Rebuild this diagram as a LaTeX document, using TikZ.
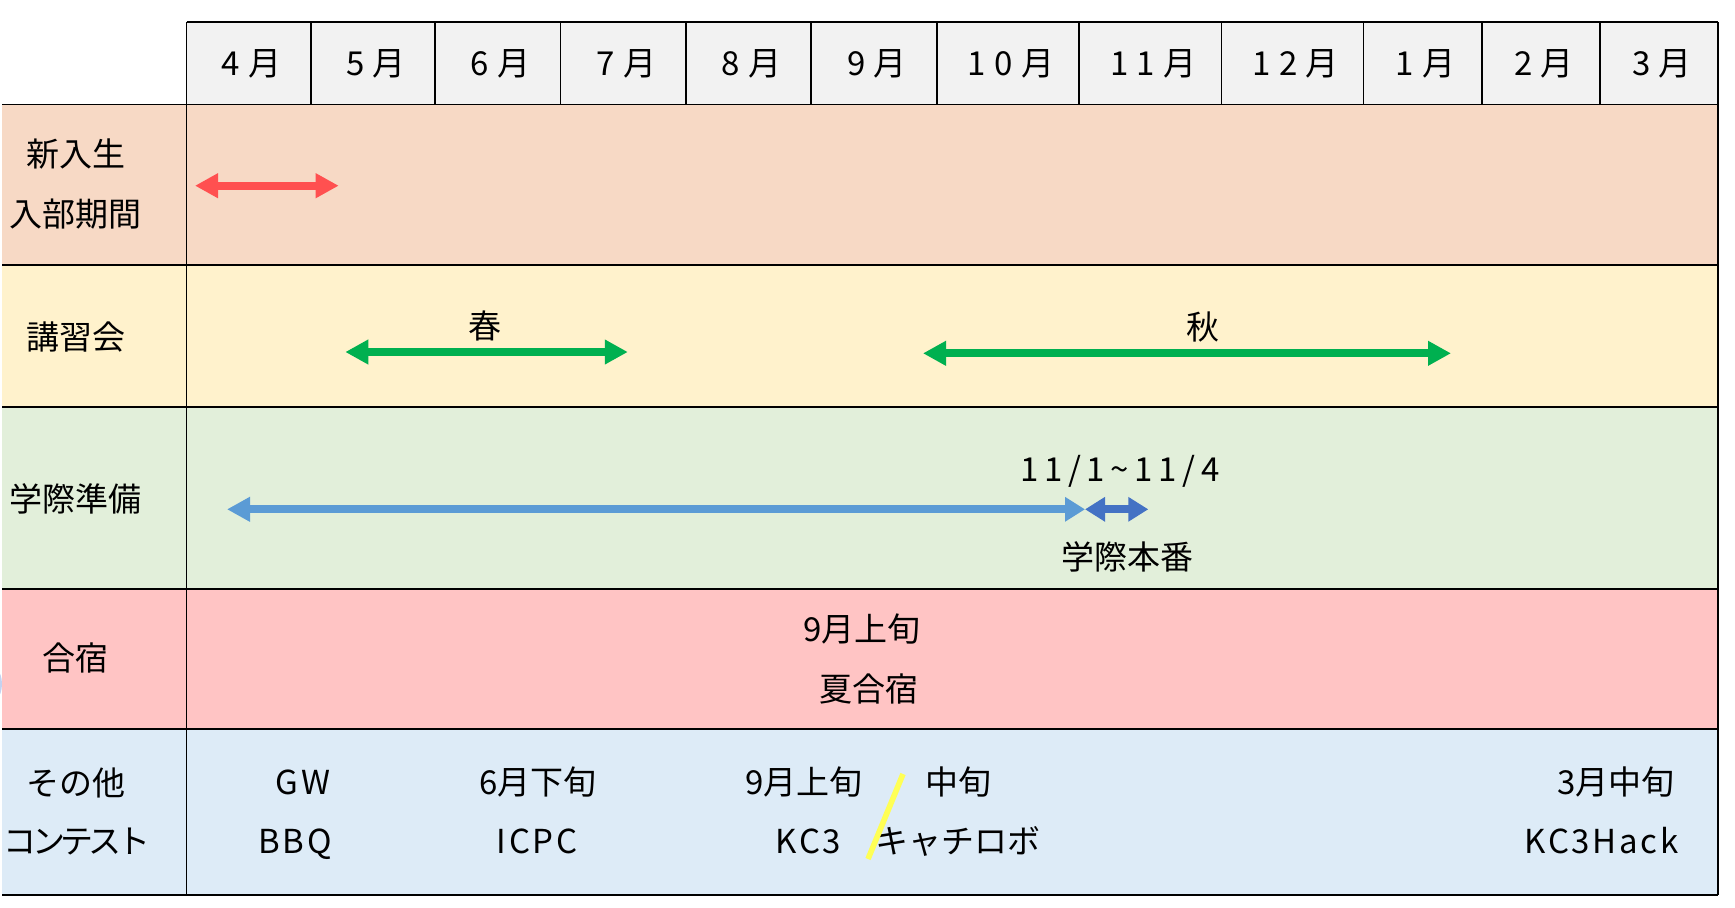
\documentclass[tikz,border=0pt]{standalone}
\usepackage{fontspec}
\setmainfont{Noto Sans CJK JP}
\usetikzlibrary{arrows.meta}
\definecolor{hdrfill}{HTML}{F2F2F2}
\definecolor{rowA}{HTML}{F7D9C5}
\definecolor{rowB}{HTML}{FFF2CC}
\definecolor{rowC}{HTML}{E2EFDA}
\definecolor{rowD}{HTML}{FFC4C4}
\definecolor{rowE}{HTML}{DDEBF7}
\definecolor{arrRed}{HTML}{FF5050}
\definecolor{arrGreen}{HTML}{00B050}
\definecolor{arrLBlue}{HTML}{5B9BD5}
\definecolor{arrDBlue}{HTML}{4472C4}
\definecolor{slashY}{HTML}{FFFF55}
\definecolor{blobBlue}{HTML}{9DB4E6}
\tikzset{
  lbl/.style={font=\fontsize{16.5pt}{20pt}\selectfont, text height=0.8em, text depth=0.1em, inner sep=0pt, yshift=-3pt},
  latin/.style={lbl, font=\fontsize{16.5pt}{20pt}\selectfont\addfontfeature{LetterSpace=8}},
  thinrule/.style={line width=0.7pt, black},
  thickrule/.style={line width=1.4pt, black},
  tipA/.tip={Triangle[length=11.5pt,width=11.7pt]},
  tipB/.tip={Triangle[length=10pt,width=11.7pt]},
  spanarrow/.style={line width=4pt, tipA-tipA},
  shortarrow/.style={line width=4pt, tipB-tipB},
}
\begin{document}
\begin{tikzpicture}[x=0.5pt,y=-0.5pt]
\useasboundingbox (0,0) rectangle (1735,907);
% fills
\fill[hdrfill] (186.5,22) rectangle (1718,104.5);
\fill[rowA] (2,104.5) rectangle (1718,265);
\fill[rowB] (2,265) rectangle (1718,407);
\fill[rowC] (2,407) rectangle (1718,589);
\fill[rowD] (2,589) rectangle (1718,729);
\fill[rowE] (2,729) rectangle (1718,895);
% small blue mark at left edge
\fill[blobBlue, opacity=0.6] (-3,684) ellipse [x radius=5, y radius=13];
% rules
\draw[thinrule] (186.5,22) -- (1718,22);
\draw[thinrule] (2,104.5) -- (1718,104.5);
\foreach \y in {265,407,589,729} \draw[thickrule] (2,\y) -- (1718,\y);
\draw[thinrule] (2,895) -- (1718,895);
\draw[thinrule] (186.5,22) -- (186.5,895);
\draw[thinrule] (1718,22) -- (1718,895);
\foreach \x in {311,435,560.5,686,811,937,1079,1221.5,1363.5,1482,1600} \draw[thinrule] (\x,22) -- (\x,104.5);
% month labels
\foreach \t/\a/\b [count=\i] in {4月/186.5/311, 5月/311/435, 6月/435/560.5, 7月/560.5/686, 8月/686/811, 9月/811/937, 10月/937/1079, 11月/1079/1221.5, 12月/1221.5/1363.5, 1月/1363.5/1482, 2月/1482/1600, 3月/1600/1718}
  \node[lbl, font=\fontsize{16.5pt}{20pt}\selectfont\addfontfeature{LetterSpace=25}] (m\i) at ({(\a+\b)/2+3},62) {\t};
% row headings
\node[lbl] (h1a) at (75.6,153.5) {新入生};
\node[lbl] (h1b) at (75.6,213.5) {入部期間};
\node[lbl] (h2) at (75.6,336) {講習会};
\node[lbl] (h3) at (75.6,498) {学際準備};
\node[lbl] (h4) at (75.6,657) {合宿};
\node[lbl] (h5a) at (75.6,782) {その他};
\node[lbl, font=\fontsize{16.5pt}{20pt}\selectfont\addfontfeature{LetterSpace=-14}] (h5b) at (77,840) {コンテスト};
% arrows
\coordinate (redL) at (195,185.7);
\coordinate (redR) at (338.7,185.7);
\draw[spanarrow, arrRed] (redL) -- (redR);
\coordinate (springL) at (345.3,352);
\coordinate (springR) at (627.8,352);
\draw[spanarrow, arrGreen] (springL) -- (springR);
\coordinate (autumnL) at (923,353.3);
\coordinate (autumnR) at (1451,353.3);
\draw[spanarrow, arrGreen] (autumnL) -- (autumnR);
\coordinate (prepL) at (227,509.3);
\coordinate (prepR) at (1085,509.3);
\coordinate (festR) at (1148.3,509.3);
\draw[line width=4pt, arrLBlue, tipA-tipB] (prepL) -- (prepR);
\draw[shortarrow, arrDBlue] (prepR) -- (festR);
% labels in rows
\node[lbl] (spring) at (484.5,325) {春};
\node[lbl] (autumn) at (1202.5,326.7) {秋};
\node[lbl, font=\fontsize{16.5pt}{20pt}\selectfont\addfontfeature{LetterSpace=17}] (dates) at (1120,468) {11/1\char`\~11/4};
\node[lbl] (fest) at (1127,556.7) {学際本番};
\node[lbl] (campdate) at (862,628) {9月上旬};
\node[lbl] (camp) at (869,688) {夏合宿};
\node[latin] (gw) at (303,781.7) {GW};
\node[latin] (bbq) at (295,840) {BBQ};
\node[lbl] (icpcdate) at (538,781.7) {6月下旬};
\node[latin] (icpc) at (537,840) {ICPC};
\node[lbl] (kcdate) at (804,781.7) {9月上旬};
\node[latin] (kc) at (808.5,840) {KC3};
\node[lbl] (robodate) at (958,781.7) {中旬};
\node[lbl] (robo) at (957.6,840) {キャチロボ};
\node[lbl] (hackdate) at (1616,781.7) {3月中旬};
\node[latin] (hack) at (1601.5,840) {KC3Hack};
% yellow slash
\coordinate (slashTop) at (903,774);
\coordinate (slashBot) at (868,859);
\draw[slashY, line width=2.8pt] (slashTop) -- (slashBot);
\end{tikzpicture}
\end{document}
